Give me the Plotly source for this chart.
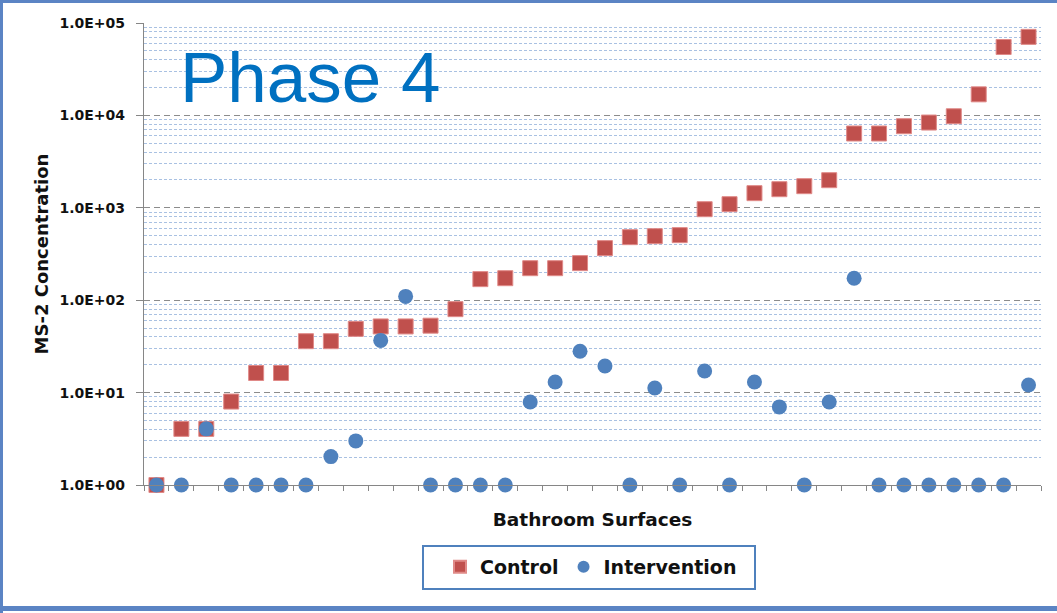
import plotly.graph_objects as go

# Bathroom surface index (categories along the x axis)
surfaces = list(range(1, 37))

# MS-2 concentration per surface
control = [1, 4.05, 4.05, 8.0, 16.3, 16.3, 36, 36, 49, 52, 52, 53,
           80, 169, 173, 222, 222, 252, 366, 481, 493, 506, 966, 1094,
           1440, 1590, 1714, 1990, 6370, 6370, 7640, 8370, 9790, 16900,
           55000, 70800]
intervention = [1, 1, 4.05, 1, 1, 1, 1, 2.03, 3.0, 36.7, 110, 1,
                1, 1, 1, 7.9, 13, 28, 19.4, 1, 11.2, 1, 17.1, 1,
                13, 7.0, 1, 7.9, 173, 1, 1, 1, 1, 1, 1, 12.1]

y_major = [1, 10, 100, 1000, 10000, 100000]
y_major_text = ["1.0E+00", "1.0E+01", "1.0E+02", "1.0E+03", "1.0E+04", "1.0E+05"]
y_minor = [m * 10 ** k for k in range(5) for m in range(2, 10)]

FONT = "DejaVu Sans"
INK = "#111111"
RED = "#C0504D"
BLUE = "#4F81BD"
FRAME = "#5B84C4"

fig = go.Figure()
fig.add_trace(go.Scatter(
    x=surfaces, y=control, mode="markers", name="Control",
    marker=dict(symbol="square", size=15, color=RED,
                line=dict(color="#E08A88", width=1)),
    cliponaxis=False,
))
fig.add_trace(go.Scatter(
    x=surfaces, y=intervention, mode="markers", name="Intervention",
    marker=dict(symbol="circle", size=15, color=BLUE, line=dict(width=0)),
    cliponaxis=False,
))

# plot-area geometry in pixels, and helpers to convert to paper units
L, T, W, H = 144, 23, 897, 462
def px(x):
    return (x - L) / W
def py(y):
    return (T + H - y) / H

# page frame (left, top, bottom edges)
frame = [(0, 0, 3, 613), (0, 0, 1057, 3), (0, 606, 1057, 611)]
shapes = []
for x0, y0, x1, y1 in frame:
    shapes.append(dict(type="rect", xref="paper", yref="paper",
                       x0=px(x0), x1=px(x1), y0=py(y1), y1=py(y0),
                       fillcolor=FRAME, line=dict(width=0), layer="above"))
# legend box
shapes.append(dict(type="rect", xref="paper", yref="paper",
                   x0=px(423), x1=px(755), y0=py(589), y1=py(546),
                   fillcolor="white", line=dict(color=BLUE, width=2),
                   layer="below"))

fig.update_layout(
    width=1057, height=613,
    margin=dict(l=L, r=1057 - L - W, t=T, b=613 - T - H),
    paper_bgcolor="white", plot_bgcolor="white",
    showlegend=True,
    legend=dict(orientation="h", x=px(591), xanchor="center",
                y=py(548), yanchor="top",
                font=dict(family=FONT, size=19, color=INK, weight="bold"),
                borderwidth=0, bgcolor="rgba(0,0,0,0)",
                itemsizing="constant"),
    shapes=shapes,
    annotations=[dict(text="Phase 4", xref="paper", yref="paper",
                      x=px(178), xanchor="left", y=py(77), yanchor="middle",
                      showarrow=False,
                      font=dict(family="Liberation Sans", size=71, color="#0070C0"))],
)

fig.update_xaxes(
    range=[0.5, 36.5], tickmode="array",
    tickvals=[i + 0.5 for i in range(0, 37)], ticktext=[""] * 37,
    ticks="outside", ticklen=5, tickcolor="#868686", tickwidth=1.3,
    showgrid=False, zeroline=False,
    showline=True, linecolor="#868686", linewidth=1.3,
    title=dict(text="Bathroom Surfaces", standoff=20,
               font=dict(family=FONT, size=18.5, color=INK, weight="bold")),
)
fig.update_yaxes(
    type="log", range=[0, 5],
    tickmode="array", tickvals=y_major, ticktext=y_major_text,
    ticks="outside", ticklen=7, tickcolor="#868686", tickwidth=1.3,
    ticklabelstandoff=8,
    tickfont=dict(family=FONT, size=14, color=INK, weight="bold"),
    showgrid=True, gridcolor="#8C8C8C", gridwidth=1.2, griddash="6px,4px",
    minor=dict(tickmode="array", tickvals=y_minor, showgrid=True,
               gridcolor="#A9C1E2", gridwidth=1, griddash="3px,2px", ticks=""),
    zeroline=False,
    showline=True, linecolor="#868686", linewidth=1.3,
    title=dict(text="MS-2 Concentration", standoff=6,
               font=dict(family=FONT, size=18, color=INK, weight="bold")),
)

fig.write_html("out.html")
